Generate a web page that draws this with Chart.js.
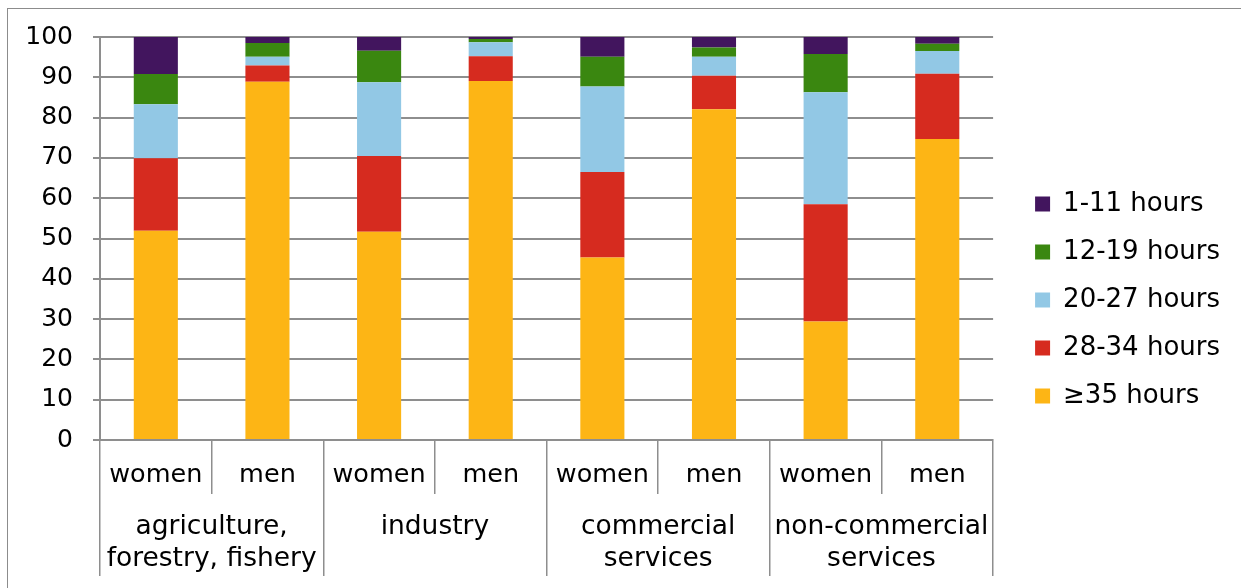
<!DOCTYPE html>
<html>
<head>
<meta charset="utf-8">
<script src="https://cdn.jsdelivr.net/npm/chart.js@4.4.1/dist/chart.umd.min.js"></script>
<style>
  html, body { margin: 0; padding: 0; background: #fff; overflow: hidden; }
  #frame { position: absolute; left: 7px; top: 8px; width: 1300px; height: 700px;
           border-left: 1px solid #8c8c8c; border-top: 1px solid #8c8c8c; }
  #wrap { position: absolute; left: 0; top: 0; width: 1241px; height: 588px; }
</style>
</head>
<body>
<div id="frame"></div>
<div id="wrap"><canvas id="chart" width="1241" height="588"></canvas></div>
<script>
// part-time hours by sector and sex, stacked to 100%

const SUBCATS = ['women', 'men', 'women', 'men', 'women', 'men', 'women', 'men'];
const GROUPS = [
  ['agriculture,', 'forestry, fishery'],
  ['industry'],
  ['commercial', 'services'],
  ['non-commercial', 'services']
];
const SERIES = ['≥35 hours', '28-34 hours', '20-27 hours', '12-19 hours', '1-11 hours'];
const COLORS = ['#FDB515', '#D62B1F', '#92C8E5', '#3A8710', '#42155E'];

const H35 = [51.9, 88.9, 51.7, 89.1, 45.3, 82.1, 29.4, 74.7];
const H28 = [18.0, 4.0, 18.8, 6.1, 21.2, 8.3, 29.1, 16.2];
const H20 = [13.4, 2.2, 18.3, 3.5, 21.2, 4.7, 27.8, 5.6];
const H12 = [7.5, 3.4, 7.8, 0.8, 7.4, 2.3, 9.5, 1.8];
const H1  = [9.2, 1.5, 3.4, 0.5, 4.9, 2.6, 4.2, 1.7];
const VALUES = [H35, H28, H20, H12, H1];

const GRID = '#8e8e8e';
const FONT = 'DejaVu Sans, Verdana, sans-serif';

Chart.defaults.font.family = FONT;
Chart.defaults.color = '#000';

const hidden = { ticks: { display: false }, grid: { display: false }, border: { display: false } };

new Chart(document.getElementById('chart').getContext('2d'), {
  type: 'bar',
  data: {
    labels: SUBCATS,
    datasets: SERIES.map((name, i) => ({
      label: name,
      data: VALUES[i],
      backgroundColor: COLORS[i],
      borderWidth: 0,
      xAxisID: 'x',
      yAxisID: 'y',
      categoryPercentage: 1,
      barPercentage: 0.395
    }))
  },
  options: {
    responsive: false,
    animation: false,
    layout: { padding: { top: 24, right: 11, bottom: 12, left: 0 } },
    plugins: {
      legend: {
        position: 'right',
        reverse: true,
        maxWidth: 300,
        labels: { boxWidth: 15, boxHeight: 15, padding: 22, color: '#000', font: { size: 26 } }
      },
      tooltip: { enabled: false }
    },
    scales: {
      x: {
        stacked: true,
        offset: true,
        afterFit: s => { s.height = 54; },
        grid: { offset: true, drawOnChartArea: false, tickLength: 54, color: GRID, lineWidth: 1.5 },
        border: { color: GRID, width: 2 },
        ticks: { color: '#000', font: { size: 25.5 }, padding: -34, maxRotation: 0, minRotation: 0, autoSkip: false }
      },
      x2: {
        type: 'category',
        labels: GROUPS,
        position: 'bottom',
        weight: 1,
        offset: true,
        afterFit: s => { s.height = 82; },
        grid: { offset: true, drawOnChartArea: false, tickLength: 82, color: GRID, lineWidth: 1.5 },
        border: { display: false },
        ticks: { color: '#000', font: { size: 26.5, lineHeight: 1.22 }, padding: -65, maxRotation: 0, minRotation: 0, autoSkip: false }
      },
      topGap: Object.assign({ type: 'linear', position: 'top', afterFit: s => { s.height = 13; } }, hidden),
      y: {
        stacked: true,
        min: 0,
        max: 100,
        afterFit: s => { s.width = 100; },
        grid: { color: GRID, lineWidth: 2, tickLength: 7 },
        border: { color: GRID, width: 2 },
        ticks: { stepSize: 10, padding: 20, color: '#000', font: { size: 25 } }
      },
      rightGap: Object.assign({ type: 'linear', position: 'right', afterFit: s => { s.width = 20; } }, hidden)
    }
  }
});
</script>
</body>
</html>
